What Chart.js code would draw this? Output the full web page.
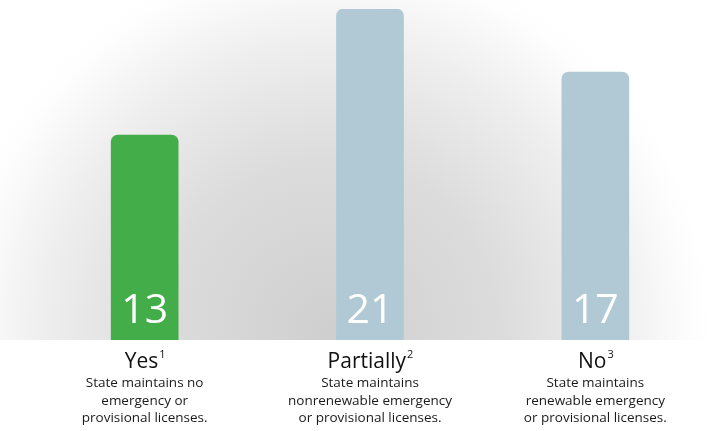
<!DOCTYPE html>
<html>
<head>
<meta charset="utf-8">
<script src="https://cdn.jsdelivr.net/npm/chart.js@4/dist/chart.umd.min.js"></script>
<style>
    html, body { margin: 0; padding: 0; background: #fff; }
    #wrap { width: 721px; height: 431px; position: relative; }
</style>
</head>
<body>
<div id="wrap"><canvas id="licenseChart"></canvas></div>
<script>
// 数据
var categories = ['Yes', 'Partially', 'No'];
var footnotes = ['1', '2', '3'];
var descriptions = [
    ['State maintains no', 'emergency or', 'provisional licenses.'],
    ['State maintains', 'nonrenewable emergency', 'or provisional licenses.'],
    ['State maintains', 'renewable emergency', 'or provisional licenses.']
];
var stateCounts = [13, 21, 17];

var barColors = ['#43ad4a', '#b0c9d4', '#b0c9d4'];
var FONT = '"Open Sans", "Noto Sans", sans-serif';

// 背景径向渐变，只画到基线
var backdrop = {
    id: 'backdrop',
    beforeDraw: function (chart) {
        var ctx = chart.ctx;
        var base = chart.chartArea.bottom;
        var g = ctx.createRadialGradient(330, 330, 0, 330, 330, 380);
        g.addColorStop(0, '#cfcfcf');
        g.addColorStop(0.45, '#dcdcdc');
        g.addColorStop(0.75, '#eeeeee');
        g.addColorStop(0.95, '#fdfdfd');
        g.addColorStop(1, '#ffffff');
        ctx.save();
        ctx.fillStyle = g;
        ctx.fillRect(0, 0, chart.width, base);
        ctx.restore();
    }
};

// 柱内数值 + 下方分类说明
var labels = {
    id: 'labels',
    afterDatasetsDraw: function (chart) {
        var ctx = chart.ctx;
        var meta = chart.getDatasetMeta(0);
        var base = chart.chartArea.bottom;
        ctx.save();
        ctx.textBaseline = 'alphabetic';
        meta.data.forEach(function (bar, i) {
            var x = bar.x;
            ctx.fillStyle = '#ffffff';
            ctx.textAlign = 'center';
            ctx.font = '400 41px ' + FONT;
            ctx.fillText(String(stateCounts[i]), x, base - 17);

            // 分类名 + 上标
            ctx.fillStyle = '#111111';
            ctx.font = '21px ' + FONT;
            var w1 = ctx.measureText(categories[i]).width;
            ctx.font = '11px ' + FONT;
            var w2 = ctx.measureText(footnotes[i]).width;
            var left = x - (w1 + w2) / 2;
            ctx.textAlign = 'left';
            ctx.font = '21px ' + FONT;
            ctx.fillText(categories[i], left, base + 28);
            ctx.font = '11px ' + FONT;
            ctx.fillText(footnotes[i], left + w1 + 1, base + 18);

            ctx.textAlign = 'center';
            ctx.fillStyle = '#1a1a1a';
            ctx.font = '500 13.5px ' + FONT;
            descriptions[i].forEach(function (line, j) {
                ctx.fillText(line, x, base + 47 + j * 17.5);
            });
        });
        ctx.restore();
    }
};

new Chart(document.getElementById('licenseChart'), {
    type: 'bar',
    data: {
        labels: categories,
        datasets: [{
            data: stateCounts,
            backgroundColor: barColors,
            borderWidth: 0,
            borderSkipped: 'bottom',
            borderRadius: { topLeft: 7, topRight: 7, bottomLeft: 0, bottomRight: 0 },
            barThickness: 67
        }]
    },
    options: {
        responsive: true,
        maintainAspectRatio: false,
        animation: false,
        layout: { padding: { left: 32, right: 13, top: 9, bottom: 91 } },
        plugins: {
            legend: { display: false },
            tooltip: { enabled: false }
        },
        scales: {
            x: { display: false },
            y: { display: false, min: 0, max: 21 }
        }
    },
    plugins: [backdrop, labels]
});
</script>
</body>
</html>
